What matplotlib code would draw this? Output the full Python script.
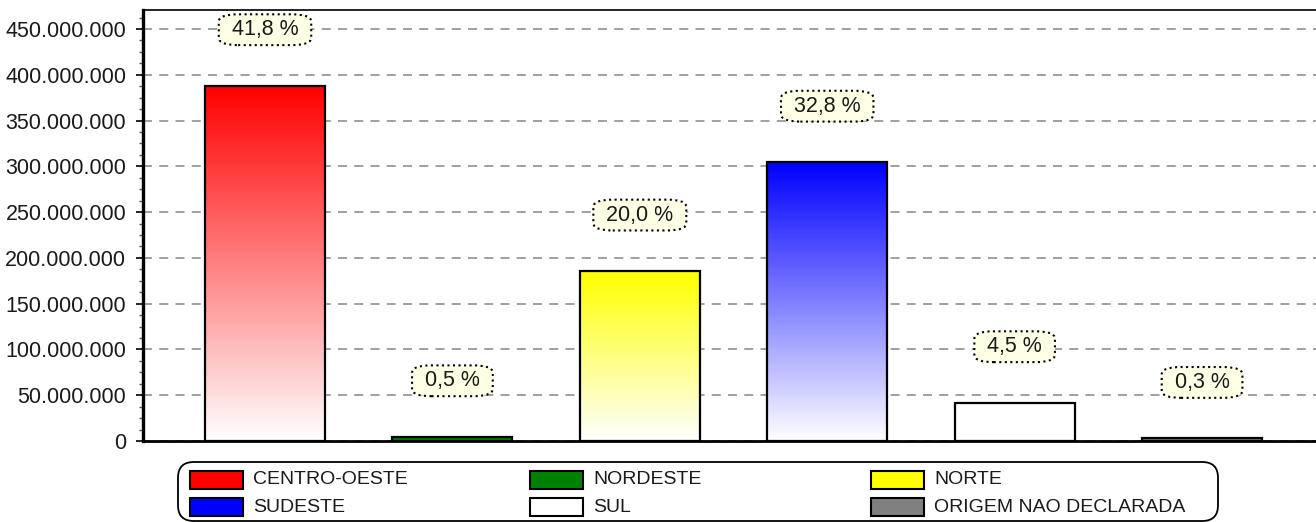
import matplotlib
matplotlib.use("Agg")
import matplotlib.pyplot as plt
import numpy as np
from matplotlib.ticker import FuncFormatter, MultipleLocator
from matplotlib.patches import FancyBboxPatch, Rectangle
from matplotlib.colors import to_rgb

# ---- data ----
categories = ["CENTRO-OESTE", "NORDESTE", "NORTE", "SUDESTE", "SUL", "ORIGEM NAO DECLARADA"]
values = [388_000_000, 4_600_000, 185_600_000, 304_500_000, 41_800_000, 2_800_000]
pct_labels = ["41,8 %", "0,5 %", "20,0 %", "32,8 %", "4,5 %", "0,3 %"]
colors = ["#FF0000", "#008000", "#FFFF00", "#0000FF", "#FFFFFF", "#808080"]
yticks = [0, 50_000_000, 100_000_000, 150_000_000, 200_000_000, 250_000_000,
          300_000_000, 350_000_000, 400_000_000, 450_000_000]

plt.rcParams['font.family'] = ['Liberation Sans', 'DejaVu Sans']

W, H = 1316, 522
fig = plt.figure(figsize=(W / 100, H / 100), dpi=100)

def px_ax(l, r, t, b):
    return [l / W, (H - b) / H, (r - l) / W, (b - t) / H]

ax = fig.add_axes(px_ax(143, 1316, 10, 441))

x = np.arange(len(categories))
bw = 0.64

# gradient fills (colour at top fading to white at bottom)
for xi, v, c in zip(x, values, colors):
    rgb = np.array(to_rgb(c))
    t = np.linspace(0, 1, 256)[:, None]
    grad = (1 - t) * np.array([1, 1, 1]) + t * rgb
    img = grad[:, None, :]
    if v < 10_000_000:
        img = np.tile(rgb, (2, 1, 1))
    ax.imshow(img, extent=[xi - bw / 2, xi + bw / 2, 0, v], origin='lower',
              aspect='auto', zorder=2, interpolation='bilinear')
ax.set_xlim(-0.651, 5.608)
ax.set_ylim(0, 470_700_000)

ax.bar(x, values, width=bw, facecolor='none', edgecolor='black', linewidth=1.6, zorder=3)

# labels
for xi, v, lab in zip(x, values, pct_labels):
    ax.annotate(lab, xy=(xi, v), xytext=(0, 56), textcoords='offset pixels',
                ha='center', va='center', fontsize=15.5, color='#1a1a1a', zorder=5,
                bbox=dict(boxstyle='round,pad=0.6,rounding_size=0.9', mutation_aspect=0.38,
                          facecolor='#FFFFE6', edgecolor='black', linestyle=':', linewidth=1.5))

# axes styling
ax.set_yticks(yticks)
ax.yaxis.set_major_formatter(FuncFormatter(lambda v, p: f"{int(v):,}".replace(",", ".")))
ax.yaxis.set_minor_locator(MultipleLocator(12_500_000))
ax.set_xticks([])
ax.tick_params(axis='y', which='major', length=5, width=1.2, pad=7, labelsize=15.5,
               labelcolor='#1a1a1a', direction='out')
ax.tick_params(axis='y', which='minor', length=3, width=1.0, direction='out', color='#555555')
ax.grid(axis='y', which='major', color='#999999', linestyle=(0, (5, 4)), linewidth=1.3, zorder=1)
ax.set_axisbelow(True)
ax.spines['left'].set_linewidth(2.4)
ax.spines['bottom'].set_linewidth(2.0)
ax.spines['top'].set_linewidth(1.2)
ax.spines['right'].set_visible(False)

# legend (manual layout)
def fx(px):
    return px / W

def fy(py):
    return (H - py) / H

frame = FancyBboxPatch((fx(178), fy(521)), fx(1218) - fx(178), fy(462) - fy(521),
                       boxstyle='round,pad=0,rounding_size=0.012', mutation_aspect=2.5,
                       transform=fig.transFigure, facecolor='white', edgecolor='black',
                       linewidth=1.3)
fig.patches.append(frame)

col_x = [190, 530, 871]
row_y = [480, 507]
for i, (cat, c) in enumerate(zip(categories, colors)):
    r, cidx = divmod(i, 3)
    px0 = col_x[cidx]
    py = row_y[r]
    rect = Rectangle((fx(px0), fy(py + 9)), fx(px0 + 53) - fx(px0), fy(py - 9) - fy(py + 9),
                     transform=fig.transFigure, facecolor=c, edgecolor='black', linewidth=1.5)
    fig.patches.append(rect)
    fig.text(fx(px0 + 63), fy(py), cat, fontsize=14, color='#1a1a1a', va='center', ha='left')

fig.savefig("out.png", dpi=100)
